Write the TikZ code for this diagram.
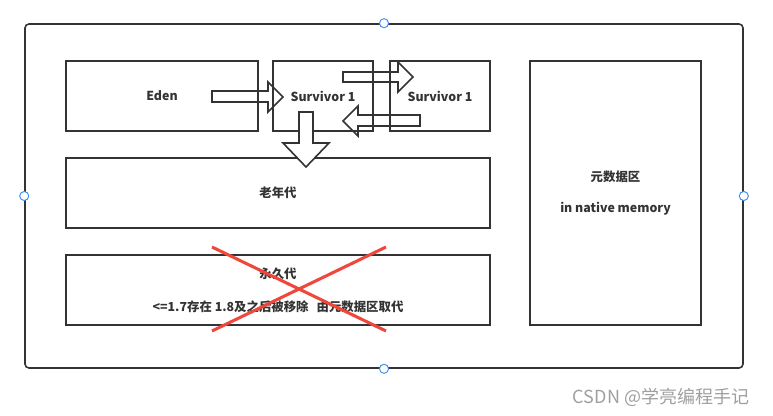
\documentclass[tikz,border=0pt]{standalone}
\usepackage{fontspec}
\setmainfont{Noto Sans CJK SC}
\definecolor{linegray}{HTML}{333333}
\definecolor{crossred}{HTML}{F0473C}
\definecolor{handleblue}{HTML}{3C8CF0}
\tikzset{
  box/.style={draw=linegray, line width=1.2pt, inner sep=0pt, font=\bfseries\fontsize{9.3}{11}\selectfont, text=linegray},
  blockarrow/.style={draw=linegray, line width=1.2pt, fill=white, line join=miter},
  handle/.style={draw=handleblue, fill=white, line width=0.7pt}
}
\begin{document}
\begin{tikzpicture}[x=0.75pt,y=-0.75pt]
\useasboundingbox (0,0) rectangle (773,416);
% outer frame
\node[box, rounded corners=3pt, minimum width=538.5pt, minimum height=258pt] (heap) at (384,196) {};

% young gen arrows (lie under the boxes)
\draw[blockarrow] (212,91) -- (268,91) -- (268,82) -- (283,97) -- (268,112) -- (268,102) -- (212,102) -- cycle;
\draw[blockarrow] (343,72) -- (398,72) -- (398,62) -- (413,77) -- (398,92) -- (398,82) -- (343,82) -- cycle;
\draw[blockarrow] (420,115) -- (358,115) -- (358,106) -- (343,121) -- (358,136) -- (358,126) -- (420,126) -- cycle;

\node[box, minimum width=144pt, minimum height=52.5pt] (eden) at (162,96) {Eden};
\node[box, minimum width=75pt, minimum height=52.5pt] (surv1) at (323,96) {Survivor 1};
\node[box, minimum width=75pt, minimum height=52.5pt] (surv2) at (440,96) {Survivor 1};
\node[box, minimum width=318pt, minimum height=52.5pt] (old) at (278,193) {老年代};
\node[box, minimum width=318pt, minimum height=52.5pt, align=center] (perm) at (278,290) {永久代\\[13.5pt]<=1.7存在 1.8及之后被移除\hspace{6pt}由元数据区取代};
\node[box, minimum width=128.25pt, minimum height=198pt, align=center] (meta) at (615.5,193) {元数据区\\[12pt]in native memory};

% surv1 -> old
\draw[blockarrow] (299,112) -- (313,112) -- (313,143) -- (329,143) -- (306,167) -- (283,143) -- (299,143) -- cycle;

% removed
\draw[crossred, line width=2.3pt] (212,247) -- (386,331);
\draw[crossred, line width=2.3pt] (212,331) -- (386,247);

% selection handles
\draw[handle] (heap.north) circle (3.4pt);
\draw[handle] (heap.south) circle (3.4pt);
\draw[handle] (heap.west) circle (3.4pt);
\draw[handle] (heap.east) circle (3.4pt);

\node[text=gray!75, font=\fontsize{13.5}{15}\selectfont] (mark) at (661,397) {CSDN @学亮编程手记};
\end{tikzpicture}
\end{document}
